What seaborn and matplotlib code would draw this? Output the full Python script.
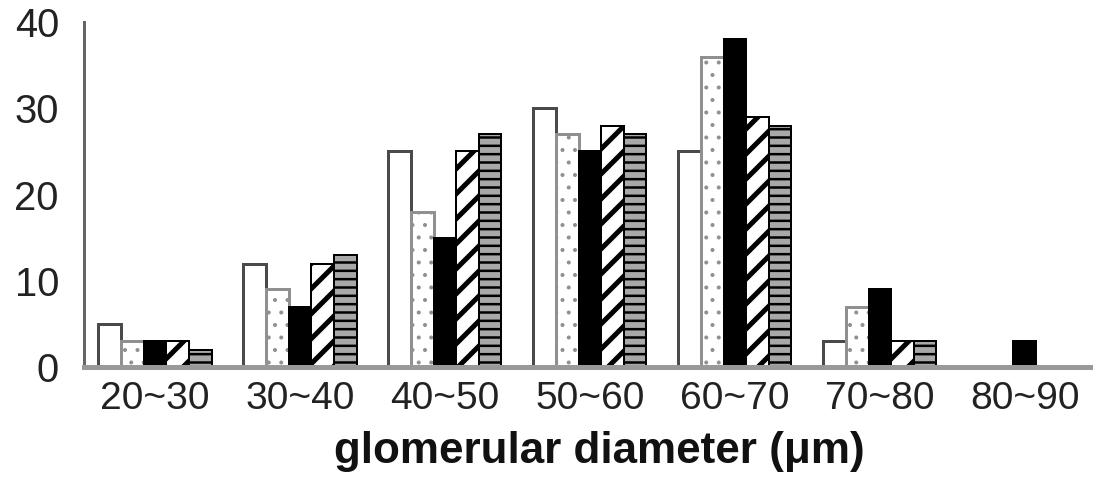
import numpy as np
import pandas as pd
import matplotlib
matplotlib.use("Agg")
import matplotlib.pyplot as plt
import seaborn as sns

categories = ["20~30", "30~40", "40~50", "50~60", "60~70", "70~80", "80~90"]
series_names = ["S1", "S2", "S3", "S4", "S5"]
s1 = [5, 12, 25, 30, 25, 3, 0]
s2 = [3, 9, 18, 27, 36, 7, 0]
s3 = [3, 7, 15, 25, 38, 9, 3]
s4 = [3, 12, 25, 28, 29, 3, 0]
s5 = [2, 13, 27, 27, 28, 3, 0]
yticks = [0, 10, 20, 30, 40]
xlabel = "glomerular diameter (\u03bcm)"

DPI = 150
W, H = 1101, 479


def px(v):
    return v * 72.0 / DPI


sns.set_theme(style="white")
plt.rcParams["font.family"] = ["Liberation Sans", "DejaVu Sans"]
plt.rcParams["hatch.linewidth"] = px(4)

df = pd.DataFrame({
    "diameter": categories * len(series_names),
    "series": np.repeat(series_names, len(categories)),
    "count": s1 + s2 + s3 + s4 + s5,
})

fig = plt.figure(figsize=(W / DPI, H / DPI), dpi=DPI)
ax = fig.add_axes([84 / W, (H - 367) / H, (1090 - 84) / W, (367 - 22) / H])

sns.barplot(data=df, x="diameter", y="count", hue="series", order=categories,
            hue_order=series_names, width=0.78, gap=0, errorbar=None,
            legend=False, ax=ax)

styles = [
    dict(fc="white", ec="#4a4a4a", hatch=None, lw=px(3), hlw=px(3)),
    dict(fc="white", ec="#909090", hatch="..", lw=px(3), hlw=px(1.5)),
    dict(fc="black", ec="black", hatch=None, lw=px(2), hlw=px(3)),
    dict(fc="white", ec="black", hatch="//", lw=px(2), hlw=px(5)),
    dict(fc="#a8a8a8", ec="black", hatch="---", lw=px(2), hlw=px(2.5)),
]
for cont, st in zip(ax.containers, styles):
    for p in cont:
        p.set_facecolor(st["fc"])
        p.set_edgecolor(st["ec"])
        p.set_linewidth(st["lw"])
        if st["hatch"]:
            p.set_hatch(st["hatch"])
            try:
                p.set_hatch_linewidth(st["hlw"])
            except AttributeError:
                pass

ax.set_xlim(-0.49, 6.45)
ax.set_ylim(0, 40)
ax.set_yticks(yticks)
ax.set_ylabel("")
ax.set_xlabel(xlabel, fontsize=px(44), fontweight="bold", color="#111")
ax.xaxis.set_label_coords(0.512, -0.185)

for s in ["top", "right"]:
    ax.spines[s].set_visible(False)
ax.spines["left"].set_color("#666666")
ax.spines["left"].set_linewidth(px(3))
ax.spines["bottom"].set_color("#999999")
ax.spines["bottom"].set_linewidth(px(5))
ax.spines["bottom"].set_zorder(10)

ax.tick_params(axis="y", length=px(11), width=px(3), color="#666666",
               pad=px(14), labelsize=px(40), labelcolor="#222222")
ax.tick_params(axis="x", length=0, pad=px(14), labelsize=px(39),
               labelcolor="#222222")

fig.savefig("out.png", dpi=DPI)
